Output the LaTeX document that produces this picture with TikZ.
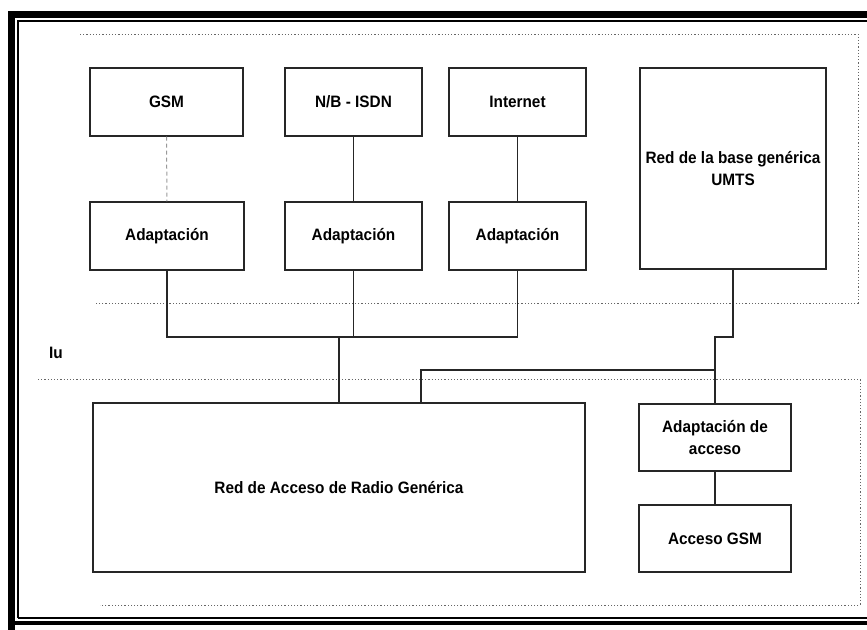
\documentclass[tikz,border=0pt]{standalone}
\usepackage{fontspec}
\setmainfont{Liberation Sans}[FakeStretch=0.93]
\begin{document}
\begin{tikzpicture}[x=1pt,y=-1pt,
  box/.style={draw=black!85,line width=1.1pt,rectangle,align=center,
    font=\fontsize{16.5}{22}\selectfont\bfseries,inner sep=0pt},
  link/.style={draw=black!85,line width=1.1pt},
  faint/.style={draw=black!40,line width=1pt,dash pattern=on 4pt off 3pt},
  zone/.style={draw=black!60,line width=0.8pt,dash pattern=on 1.2pt off 2pt},
  frame/.style={draw=black,line cap=rect}]
\useasboundingbox (0,0) rectangle (867,629);
\begin{scope}
\clip (0,0) rectangle (867,629);
% double frame around the figure
\draw[frame,line width=7pt] (11.5,640) -- (11.5,14) -- (900,14);
\draw[frame,line width=4pt] (11.5,623) -- (900,623);
\draw[line width=1.2pt] (18,618) -- (18,21) -- (900,21);
\draw[line width=1.2pt] (18,618) -- (900,618);
\end{scope}

% dotted zones: core network and access network
\draw[zone] (80,34) -- (858,34) -- (858,303) -- (95,303);
\draw[zone] (38,379) -- (860,379) -- (860,605) -- (100,605);

% core network blocks
\node[box,minimum width=153pt,minimum height=68pt] (gsm) at (166.5,102) {GSM};
\node[box,minimum width=137pt,minimum height=68pt] (isdn) at (353.5,102) {N/B - ISDN};
\node[box,minimum width=137pt,minimum height=68pt] (inet) at (517.5,102) {Internet};
\node[box,minimum width=186pt,minimum height=201pt] (umts) at (733,168.5) {Red de la base genérica\\UMTS};
\node[box,minimum width=154pt,minimum height=68pt] (ad1) at (167,236) {Adaptación};
\node[box,minimum width=137pt,minimum height=68pt] (ad2) at (353.5,236) {Adaptación};
\node[box,minimum width=137pt,minimum height=68pt] (ad3) at (517.5,236) {Adaptación};

% access network blocks
\node[box,minimum width=492pt,minimum height=169pt] (ran) at (339,487.5) {Red de Acceso de Radio Genérica};
\node[box,minimum width=152pt,minimum height=67pt] (adacc) at (715,437.5) {Adaptación de\\acceso};
\node[box,minimum width=152pt,minimum height=67pt] (agsm) at (715,538.5) {Acceso GSM};

\node[font=\fontsize{16.5}{18}\selectfont\bfseries,anchor=west,inner sep=0pt] (iu) at (49,353) {Iu};

% connectors
\coordinate (bus) at (339,337);
\coordinate (busL) at (ad1.south |- bus);
\coordinate (busR) at (ad3.south |- bus);
\coordinate (rtop) at (421,370);
\coordinate (ujog) at (umts.south |- 0,337);

\draw[faint] (gsm) -- (ad1);
\draw[link] (isdn) -- (ad2);
\draw[link] (inet) -- (ad3);
\draw[link] (ad1.south) -- (busL) -- (busR) -- (ad3.south);
\draw[link] (ad2.south) -- (ad2.south |- bus);
\draw[link] (bus) -- (ran.north);
\draw[link] (rtop |- ran.north) -- (rtop) -- (adacc.north |- rtop);
\draw[link] (umts.south) -- (ujog) -- (adacc.north |- ujog) -- (adacc.north);
\draw[link] (adacc) -- (agsm);
\end{tikzpicture}
\end{document}
